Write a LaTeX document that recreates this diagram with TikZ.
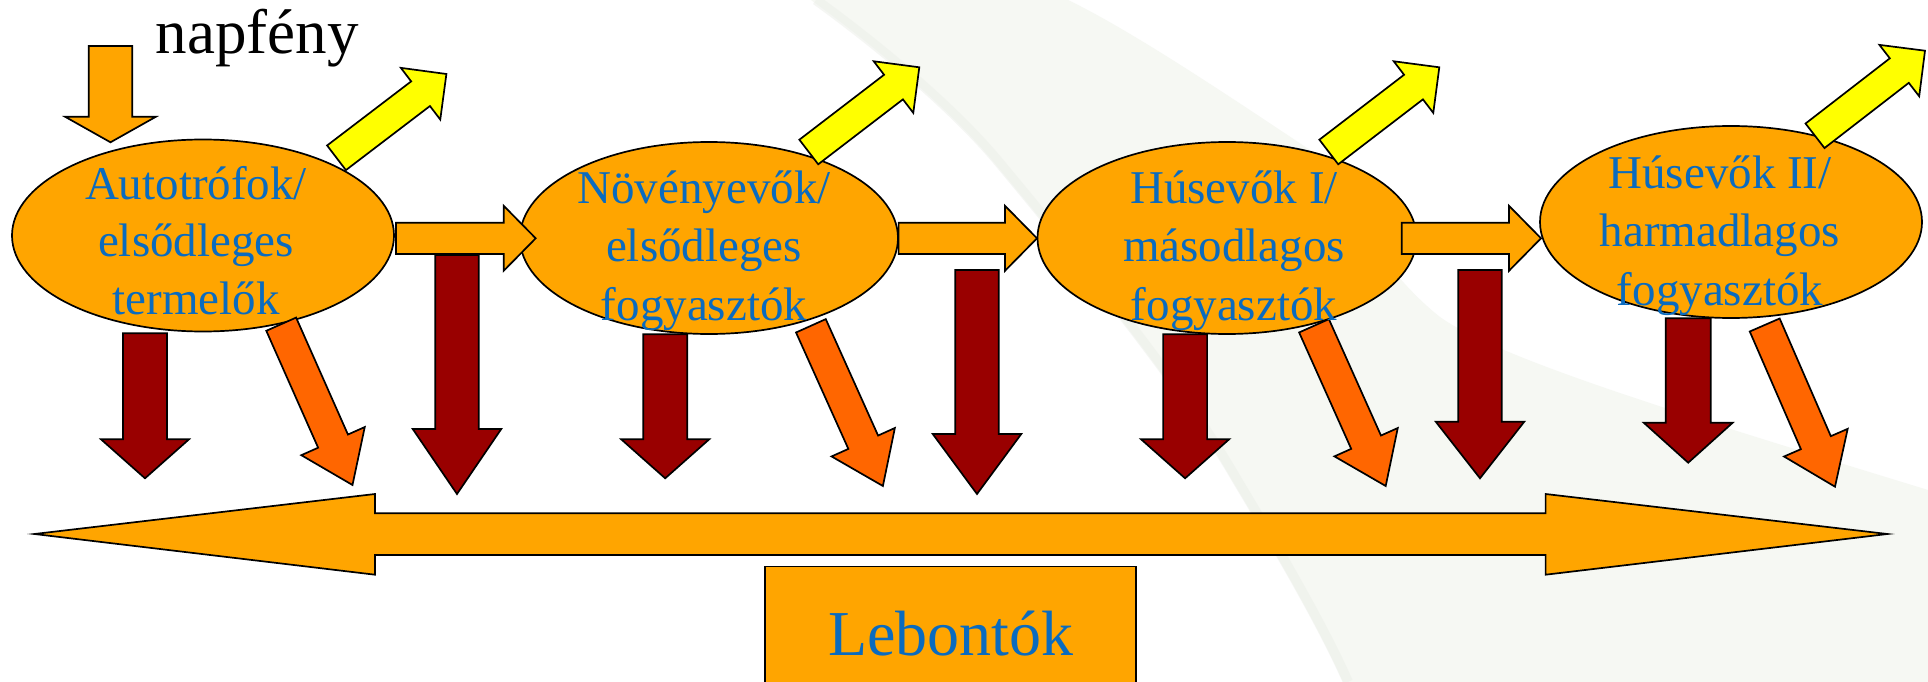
\documentclass[tikz,border=0pt]{standalone}
\usepackage{fontspec}
\setmainfont{Liberation Serif}
\usetikzlibrary{shapes.geometric}
\definecolor{orng}{HTML}{FFA500}
\definecolor{dred}{HTML}{990000}
\definecolor{ored}{HTML}{FF6600}
\definecolor{yel}{HTML}{FFFF00}
\definecolor{txtblue}{HTML}{0A6BBF}
\definecolor{bgband}{HTML}{F6F8F3}
\definecolor{bgedge}{HTML}{ECEFE9}
% block arrow: #1 style, (#2,#3) tail centre, (#4,#5) tip, #6 shaft width, #7 head width, #8 head length
\newcommand\blockarr[8]{%
  \pgfmathsetmacro\bdx{(#4)-(#2)}%
  \pgfmathsetmacro\bdy{(#5)-(#3)}%
  \pgfmathsetmacro\blen{veclen(\bdx/100,\bdy/100)*100}%
  \pgfmathsetmacro\bang{atan2(-(\bdy),\bdx)}%
  \pgfmathsetmacro\bneck{\blen-(#8)}%
  \draw[#1,shift={(#2,#3)},rotate=\bang] (0,{-(#6)/2}) -- (\bneck,{-(#6)/2}) -- (\bneck,{-(#7)/2}) -- (\blen,0) -- (\bneck,{(#7)/2}) -- (\bneck,{(#6)/2}) -- (0,{(#6)/2}) -- cycle;}
\begin{document}
\begin{tikzpicture}[x=1pt,y=-1pt,
  outl/.style={draw=black,line width=1.7pt,line join=miter},
  ellbox/.style={outl,ellipse,fill=orng,inner sep=0pt},
  orarrow/.style={outl,fill=orng},
  yarrow/.style={outl,fill=yel},
  drarrow/.style={outl,fill=dred},
  oarrow/.style={outl,fill=ored},
  lbl/.style={text=txtblue,inner sep=0pt,anchor=base,font=\fontsize{47}{57}\selectfont},
  biglbl/.style={inner sep=0pt,anchor=base,font=\fontsize{63}{70}\selectfont}]
\useasboundingbox (0,0) rectangle (1928,682);
\clip (0,0) rectangle (1928,682);
\fill[white] (0,0) rectangle (1928,682);
% background swoosh
\fill[bgband] (811,0) .. controls (880,50) and (950,110) .. (992,160)
  .. controls (1100,290) and (1180,390) .. (1232,480)
  .. controls (1280,560) and (1320,630) .. (1343,682)
  -- (1928,682) -- (1928,490)
  .. controls (1700,420) and (1500,360) .. (1440,317)
  .. controls (1380,270) and (1330,180) .. (1310,150)
  .. controls (1220,90) and (1130,30) .. (1068,0) -- cycle;
\draw[bgedge,line width=10pt,opacity=0.5] (816,0) .. controls (885,50) and (955,110) .. (997,160)
  .. controls (1105,290) and (1185,390) .. (1237,480)
  .. controls (1285,560) and (1325,630) .. (1348,682);
% ellipses
\node[ellbox,minimum width=382pt,minimum height=192pt] (e1) at (203,235.5) {};
\node[ellbox,minimum width=378pt,minimum height=192pt] (e2) at (709,238) {};
\node[ellbox,minimum width=379pt,minimum height=192pt] (e3) at (1227,238) {};
\node[ellbox,minimum width=382pt,minimum height=192pt] (e4) at (1731,222) {};
% sunlight arrow
\blockarr{orarrow}{110.5}{46}{110.5}{142.3}{43.5}{91}{25.6}
% horizontal arrows
\blockarr{orarrow}{396}{238.3}{535.7}{238.3}{31.3}{65}{32}
\blockarr{orarrow}{898.6}{238.3}{1037}{238.3}{31.3}{65}{32}
\blockarr{orarrow}{1401.8}{238.3}{1541}{238.3}{31.3}{65}{32}
% yellow arrows
\blockarr{yarrow}{336.5}{157.8}{446.4}{74}{31}{65}{32.5}
\blockarr{yarrow}{808.8}{152}{919.3}{67.3}{31}{65}{32.5}
\blockarr{yarrow}{1328.8}{152}{1439.3}{67.3}{31}{65}{32.5}
\blockarr{yarrow}{1815}{135.8}{1925}{50.7}{31}{65}{32.5}
% short dark red arrows
\blockarr{drarrow}{145}{333.3}{145}{478.3}{44}{88}{39}
\blockarr{drarrow}{665.2}{334.3}{665.2}{478.3}{44}{88}{39}
\blockarr{drarrow}{1185.1}{334.3}{1185.1}{478.3}{44}{88}{39}
\blockarr{drarrow}{1688.2}{318.3}{1688.2}{462.7}{45}{89}{40}
% long dark red arrows
\blockarr{drarrow}{457}{255}{457}{494}{43.5}{88.5}{65}
\blockarr{drarrow}{977}{270}{977}{494}{43.5}{88.5}{60}
\blockarr{drarrow}{1480}{270}{1480}{478.3}{43.5}{88.5}{56.6}
% orange-red arrows
\blockarr{oarrow}{281.2}{324.2}{352.5}{485}{32.6}{69.4}{48}
\blockarr{oarrow}{810.9}{325.8}{882.9}{486}{32.6}{69.4}{48}
\blockarr{oarrow}{1314}{325.8}{1385.7}{486}{32.6}{69.4}{48}
\blockarr{oarrow}{1764.7}{325}{1835}{486.7}{32.6}{69.4}{48}
% double arrow
\draw[orarrow] (34.4,534) -- (375,494) -- (375,513.3) -- (1545.6,513.3) -- (1545.6,494)
  -- (1887.4,534) -- (1545.6,574.7) -- (1545.6,555) -- (375,555) -- (375,574.7) -- cycle;
% decomposers box
\node[outl,fill=orng,minimum width=371pt,minimum height=130pt,inner sep=0pt,anchor=north] (lebox) at (950.4,565.7) {};
% texts
\node[biglbl] (sun) at (257.4,53.3) {napfény};
\node[biglbl,text=txtblue,font=\fontsize{64}{70}\selectfont] (leb) at (950.9,655.7) {Lebontók};
\node[lbl] (t1a) at (196,200) {Autotrófok/};
\node[lbl] (t1b) at (196,256.7) {elsődleges};
\node[lbl] (t1c) at (196,314) {termelők};
\node[lbl] (t2a) at (704,204) {Növényevők/};
\node[lbl] (t2b) at (704,261.7) {elsődleges};
\node[lbl] (t2c) at (704,320) {fogyasztók};
\node[lbl] (t3a) at (1234,204) {Húsevők I/};
\node[lbl] (t3b) at (1234,261.7) {másodlagos};
\node[lbl] (t3c) at (1234,320) {fogyasztók};
\node[lbl] (t4a) at (1720,189) {Húsevők II/};
\node[lbl] (t4b) at (1720,246.7) {harmadlagos};
\node[lbl] (t4c) at (1720,305) {fogyasztók};
\end{tikzpicture}
\end{document}
